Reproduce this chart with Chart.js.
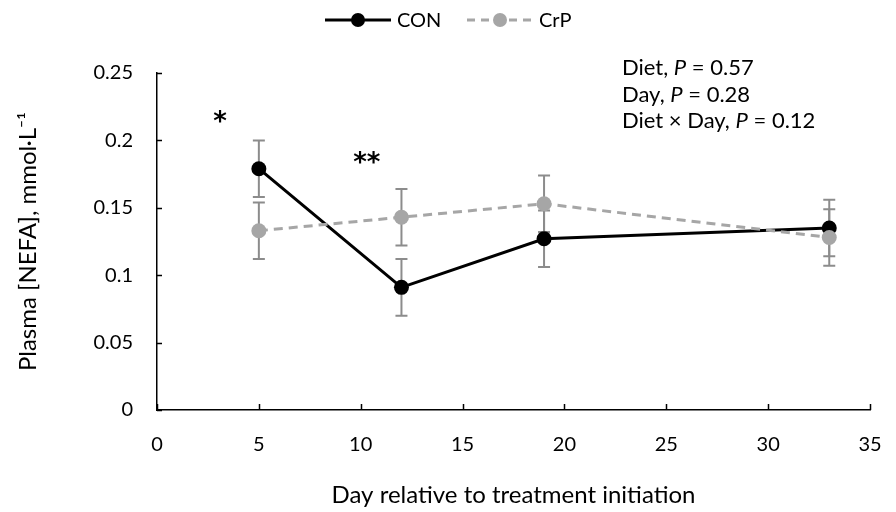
<!DOCTYPE html>
<html>
<head>
<meta charset="utf-8">
<script src="https://cdn.jsdelivr.net/npm/chart.js@4"></script>
<style>
  html, body { margin: 0; padding: 0; background: #fff; }
  #wrap { width: 896px; height: 512px; }
</style>
</head>
<body>
<div id="wrap"><canvas id="nefaChart" width="896" height="512"></canvas></div>
<script>
const days = [5, 12, 19, 33];
const conValues = [0.179, 0.091, 0.127, 0.135];
const conSE = [0.021, 0.021, 0.021, 0.021];
const crpValues = [0.133, 0.143, 0.153, 0.128];
const crpSE = [0.021, 0.021, 0.021, 0.021];
const yTickLabels = ["0", "0.05", "0.1", "0.15", "0.2", "0.25"];
const xTickLabels = ["0", "5", "10", "15", "20", "25", "30", "35"];
const seriesNames = ["CON", "CrP"];
const statLines = [["Diet, ", "P", " = 0.57"], ["Day, ", "P", " = 0.28"], ["Diet \u00d7 Day, ", "P", " = 0.12"]];
// significance marks: [day, value, label]
const sigMarks = [[3.1, 0.217, "*"], [10.3, 0.187, "**"]];

const FONT = "Lato, 'Open Sans', sans-serif";
const CON_COLOR = "#000000";
const CRP_COLOR = "#a6a6a6";
const ERR_COLOR = "#8c8c8c";

const errorBars = {
  id: "errorBars",
  beforeDatasetsDraw(chart) {
    const ctx = chart.ctx;
    const x = chart.scales.x, y = chart.scales.y;
    const sets = [[conValues, conSE], [crpValues, crpSE]];
    ctx.save();
    ctx.strokeStyle = ERR_COLOR;
    ctx.lineWidth = 2;
    sets.forEach(([vals, se]) => {
      vals.forEach((v, i) => {
        const px = x.getPixelForValue(days[i]);
        const top = y.getPixelForValue(v + se[i]);
        const bot = y.getPixelForValue(v - se[i]);
        ctx.beginPath();
        ctx.moveTo(px, top); ctx.lineTo(px, bot);
        ctx.moveTo(px - 6, top); ctx.lineTo(px + 6, top);
        ctx.moveTo(px - 6, bot); ctx.lineTo(px + 6, bot);
        ctx.stroke();
      });
    });
    ctx.restore();
  }
};

const extras = {
  id: "extras",
  afterDraw(chart) {
    const ctx = chart.ctx;
    const x = chart.scales.x, y = chart.scales.y;
    const area = chart.chartArea;
    ctx.save();

    // inward tick marks
    ctx.strokeStyle = "#000";
    ctx.lineWidth = 1.5;
    ctx.beginPath();
    x.ticks.forEach((t, i) => {
      const px = Math.round(x.getPixelForTick(i)) + 0.5;
      ctx.moveTo(px, area.bottom); ctx.lineTo(px, area.bottom - 6);
    });
    y.ticks.forEach((t, i) => {
      const py = Math.round(y.getPixelForTick(i)) + 0.5;
      ctx.moveTo(area.left, py); ctx.lineTo(area.left + 5, py);
    });
    ctx.stroke();

    // significance asterisks
    ctx.fillStyle = "#000";
    ctx.font = "bold 26px 'DejaVu Sans', sans-serif";
    ctx.textAlign = "center";
    ctx.textBaseline = "middle";
    sigMarks.forEach(([d, v, s]) => {
      ctx.fillText(s, x.getPixelForValue(d), y.getPixelForValue(v) + 6);
    });

    // stats block
    ctx.textAlign = "left";
    ctx.textBaseline = "middle";
    statLines.forEach((parts, i) => {
      let px = 622;
      const py = 68 + i * 26.5;
      parts.forEach((p, j) => {
        ctx.font = (j === 1 ? "italic " : "") + "22px " + FONT;
        ctx.fillText(p, px, py);
        px += ctx.measureText(p).width;
      });
    });

    // legend with line + marker
    const items = [
      { name: seriesNames[0], color: CON_COLOR, dash: [], x0: 325 },
      { name: seriesNames[1], color: CRP_COLOR, dash: [8, 6], x0: 467 }
    ];
    const ly = 20;
    items.forEach(it => {
      ctx.strokeStyle = it.color;
      ctx.lineWidth = 3;
      ctx.setLineDash(it.dash);
      ctx.beginPath();
      ctx.moveTo(it.x0, ly); ctx.lineTo(it.x0 + 66, ly);
      ctx.stroke();
      ctx.setLineDash([]);
      ctx.fillStyle = it.color;
      ctx.beginPath();
      ctx.arc(it.x0 + 33, ly, 7, 0, Math.PI * 2);
      ctx.fill();
      ctx.fillStyle = "#000";
      ctx.font = "20px " + FONT;
      ctx.fillText(it.name, it.x0 + 72, ly + 1);
    });
    ctx.restore();
  }
};

const ctx = document.getElementById("nefaChart").getContext("2d");
new Chart(ctx, {
  type: "line",
  data: {
    datasets: [
      {
        label: seriesNames[0],
        data: days.map((d, i) => ({ x: d, y: conValues[i] })),
        borderColor: CON_COLOR,
        backgroundColor: CON_COLOR,
        borderWidth: 3,
        pointRadius: 7.5,
        pointBorderWidth: 0,
        pointHoverRadius: 7.5,
        order: 1
      },
      {
        label: seriesNames[1],
        data: days.map((d, i) => ({ x: d, y: crpValues[i] })),
        borderColor: CRP_COLOR,
        backgroundColor: CRP_COLOR,
        borderWidth: 3,
        borderDash: [9, 6],
        pointRadius: 7.5,
        pointBorderWidth: 0,
        pointHoverRadius: 7.5,
        order: 0
      }
    ]
  },
  options: {
    responsive: false,
    animation: false,
    layout: { padding: { top: 73, right: 26, left: 0, bottom: 0 } },
    plugins: { legend: { display: false }, tooltip: { enabled: false } },
    scales: {
      x: {
        type: "linear",
        min: 0, max: 35,
        border: { color: "#000", width: 1.5 },
        grid: { display: false, drawTicks: false },
        ticks: {
          stepSize: 5,
          padding: 23,
          color: "#000",
          font: { family: FONT, size: 20 },
          callback: (v, i) => xTickLabels[i]
        },
        title: {
          display: true,
          text: "Day relative to treatment initiation",
          color: "#000",
          font: { family: FONT, size: 24 },
          padding: { top: 0, bottom: 2 }
        },
        afterFit: s => { s.height = 102; s.paddingLeft = 0; s.paddingRight = 0; }
      },
      y: {
        min: 0, max: 0.25,
        border: { color: "#000", width: 1.5 },
        grid: { display: false, drawTicks: false },
        ticks: {
          stepSize: 0.05,
          padding: 24,
          color: "#000",
          font: { family: FONT, size: 20 },
          callback: (v, i) => yTickLabels[i]
        },
        title: {
          display: true,
          text: "Plasma [NEFA], mmol\u00b7L\u207b\u00b9",
          color: "#000",
          font: { family: FONT, size: 24 },
          padding: { top: 14, bottom: 0 }
        },
        afterFit: s => { s.width = 157; s.paddingTop = 0; s.paddingBottom = 0; }
      }
    }
  },
  plugins: [errorBars, extras]
});
</script>
</body>
</html>
